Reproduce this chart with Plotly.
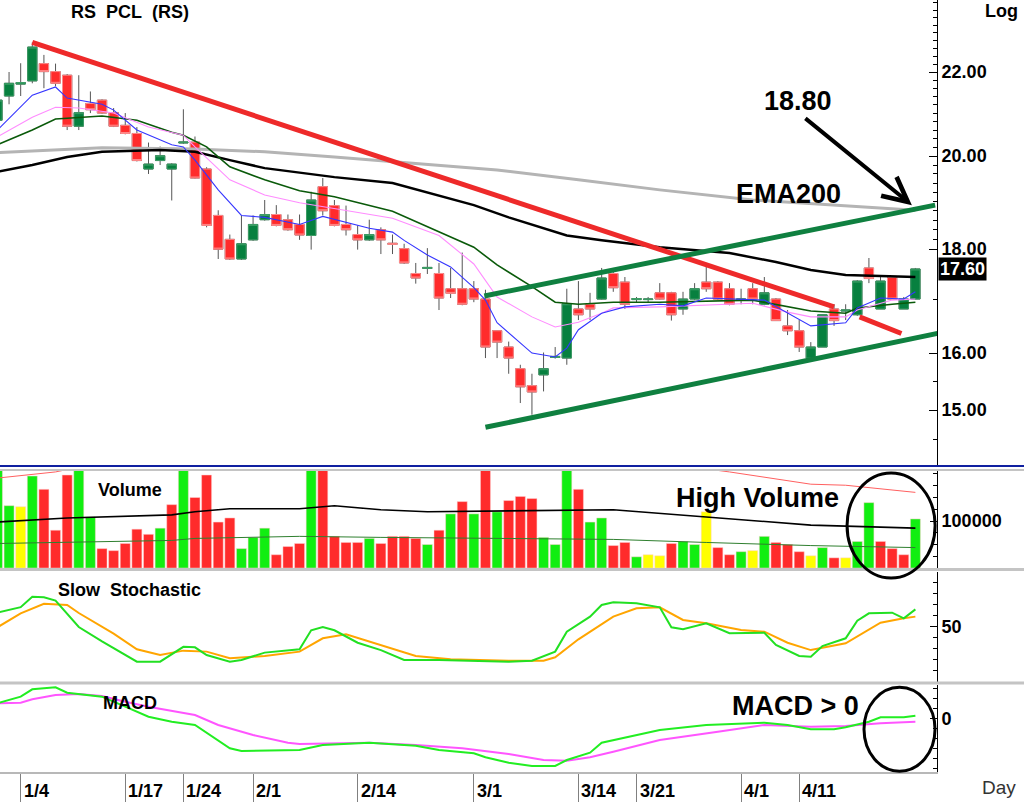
import math
import numpy as np
import plotly.graph_objects as go

FONT = "Liberation Sans, Arial, sans-serif"

# bar index (0 = 1/4)
bars = list(range(-2, 78))

opens = [20.83, 21.41, 21.70, 21.78, 22.21, 22.01, 21.92, 20.69, 21.23, 21.31,
         21.01, 20.71, 20.52, 19.71, 19.90, 19.71, 20.30, 20.32, 19.71, 18.70,
         18.20, 17.80, 18.19, 18.61, 18.72, 18.61, 18.51, 18.28, 19.32, 18.91,
         18.51, 18.30, 18.19, 18.40, 18.12, 18.01, 17.51, 17.61, 17.51, 17.21,
         17.21, 17.21, 17.01, 16.41, 16.11, 15.72, 15.42, 15.61, 15.92, 15.91,
         16.82, 16.91, 17.01, 17.51, 17.34, 17.00, 17.00, 17.13, 17.13, 16.82,
         17.01, 17.34, 17.34, 17.21, 16.99, 17.21, 16.91, 17.01, 16.50, 16.41,
         15.91, 16.11, 16.82, 16.78, 16.71, 17.62, 16.82, 17.43, 16.82, 17.01]
highs = [21.45, 22.00, 22.22, 22.75, 22.43, 22.21, 21.95, 21.92, 21.52, 21.33,
         21.12, 21.00, 20.67, 20.31, 20.22, 19.84, 21.09, 20.45, 19.75, 18.81,
         18.30, 18.70, 18.70, 19.03, 18.92, 18.72, 18.72, 19.21, 19.51, 19.03,
         18.91, 18.49, 18.61, 18.45, 18.30, 18.11, 17.72, 18.02, 17.72, 17.62,
         17.93, 17.36, 17.19, 16.41, 16.21, 15.79, 15.63, 16.01, 16.11, 17.21,
         17.36, 17.13, 17.62, 17.62, 17.44, 17.05, 17.05, 17.32, 17.15, 17.15,
         17.32, 17.72, 17.36, 17.32, 17.21, 17.32, 17.44, 17.03, 16.80, 16.61,
         16.20, 16.71, 16.91, 16.91, 17.38, 17.82, 17.44, 17.45, 17.05, 17.62]
lows = [20.65, 21.21, 21.41, 21.72, 21.60, 21.65, 20.60, 20.60, 21.00, 20.98,
        20.67, 20.50, 19.88, 19.60, 19.80, 19.02, 20.28, 19.50, 18.45, 17.80,
        17.78, 17.78, 18.17, 18.59, 18.47, 18.38, 18.19, 17.99, 18.70, 18.47,
        18.28, 17.99, 18.17, 17.90, 17.90, 17.70, 17.31, 17.50, 16.80, 17.03,
        16.89, 16.95, 15.91, 15.91, 15.63, 15.12, 14.92, 15.32, 15.90, 15.79,
        16.61, 16.61, 17.00, 17.15, 16.82, 16.95, 16.95, 17.00, 16.60, 16.71,
        16.99, 17.15, 16.99, 16.89, 16.91, 16.91, 16.89, 16.60, 16.33, 16.02,
        15.89, 16.11, 16.50, 16.61, 16.69, 17.32, 16.82, 17.01, 16.82, 17.00]
closes = [21.31, 21.72, 21.74, 22.63, 22.01, 21.72, 20.69, 21.01, 21.08, 21.00,
          20.69, 20.52, 19.90, 19.82, 20.01, 19.82, 20.32, 19.51, 18.49, 18.00,
          17.80, 18.11, 18.51, 18.72, 18.49, 18.40, 18.29, 19.03, 18.80, 18.49,
          18.40, 18.19, 18.30, 18.19, 18.10, 17.72, 17.42, 17.63, 17.03, 17.12,
          16.91, 17.01, 16.11, 16.20, 15.91, 15.40, 15.31, 15.72, 15.94, 16.92,
          16.71, 16.82, 17.42, 17.23, 16.91, 17.02, 17.01, 17.01, 16.71, 17.01,
          17.21, 17.21, 17.01, 16.91, 17.01, 17.01, 17.13, 16.60, 16.41, 16.11,
          16.11, 16.71, 16.60, 16.80, 17.36, 17.41, 17.36, 17.01, 17.01, 17.60]

volumes = [250000, 132600, 130400, 195700, 167400, 80400, 197800, 240000, 108700, 41300,
           37000, 52200, 82600, 71700, 84800, 134800, 260000, 150000, 197800, 97800,
           106500, 41300, 65200, 84800, 28300, 45700, 52200, 280000, 250000, 67400,
           54400, 54400, 63000, 52200, 67400, 67400, 63000, 50000, 80400, 115200,
           141300, 115200, 270000, 119600, 143500, 152200, 147800, 65200, 50000, 300000,
           167400, 97800, 106500, 47800, 54400, 23900, 28300, 26100, 52200, 56500,
           50000, 119600, 43500, 28300, 34800, 37000, 67400, 54400, 50000, 34800,
           26100, 43500, 21700, 21700, 56500, 139100, 56500, 41300, 28300, 104400]
vol_dir = ("u u f u d d d u u d "
           "d d d d u d u d d d "
           "d u u u d d d u d d "
           "d d u d d d d u d u "
           "d u d u d d d u u u "
           "d u u d d u f f d u "
           "u f d d u f u d d d "
           "f u d f u u d d d u").split()

# moving averages on price
ema_fast_x = [-2, 1, 3, 4, 7, 8, 10, 13, 14, 15, 17, 19, 21, 23, 24, 26, 27, 30, 32, 33, 35,
              37, 39, 40, 41, 43, 44, 46, 47, 48, 50, 52, 55, 57, 59, 64, 66, 68, 71, 72, 74, 76, 77]
ema_fast = [20.60, 21.43, 21.63, 21.36, 21.21, 21.07, 20.60, 20.26, 20.21, 19.91, 19.25, 18.70,
            18.66, 18.56, 18.51, 18.68, 18.62, 18.43, 18.35, 18.18, 17.88, 17.64, 17.23, 16.99,
            16.56, 16.19, 16.00, 15.93, 16.09, 16.43, 16.74, 16.86, 16.91, 16.88, 17.03, 16.99,
            16.74, 16.50, 16.56, 16.84, 17.03, 17.01, 17.15]
ema_mid_x = [-2, 1, 3, 5, 8, 11, 14, 15, 18, 21, 24, 27, 32, 36, 39, 41, 44, 46, 48, 50, 51,
             55, 63, 66, 68, 71, 72, 75, 77]
ema_mid = [20.44, 20.90, 21.14, 21.12, 21.00, 20.67, 20.48, 20.21, 19.47, 19.14, 18.97, 18.84,
           18.64, 18.28, 17.70, 17.05, 16.67, 16.48, 16.57, 16.74, 16.84, 16.86, 16.93, 16.76,
           16.67, 16.67, 16.80, 16.99, 17.01]
ema_slow_x = [-2, 1, 3, 4, 7, 10, 13, 14, 16, 18, 21, 24, 27, 32, 36, 39, 41, 44, 46, 48, 51,
              55, 63, 68, 71, 72, 75, 77]
ema_slow = [20.26, 20.60, 20.86, 20.88, 20.93, 20.83, 20.55, 20.48, 20.21, 19.76, 19.47, 19.23,
            19.10, 18.79, 18.35, 18.04, 17.68, 17.25, 16.95, 16.91, 16.95, 16.95, 16.99, 16.78,
            16.74, 16.84, 16.91, 16.95]
ema50_x = [-2, 1, 4, 7, 12, 15, 18, 21, 27, 32, 39, 42, 47, 50, 55, 61, 65, 68, 71, 77]
ema50 = [19.65, 19.80, 19.98, 20.10, 20.14, 20.10, 19.91, 19.73, 19.53, 19.40, 18.92, 18.66,
         18.28, 18.18, 18.04, 17.92, 17.74, 17.58, 17.48, 17.44]
ema200_x = [-2, 7, 15, 21, 27, 34, 41, 48, 55, 63, 70, 77]
ema200 = [20.08, 20.19, 20.16, 20.10, 19.98, 19.84, 19.69, 19.47, 19.25, 19.03, 18.92, 18.81]

# hand drawn trend lines
down_x = [1, 70]
down_y = [22.75, 16.86]
down2_x = [72.2, 75.8]
down2_y = [16.67, 16.36]
chan_up_x = [39.9, 78.7]
chan_up_y = [17.07, 18.92]
chan_lo_x = [40.0, 78.9]
chan_lo_y = [14.71, 16.36]

# volume averages
vavg_x = [-2, 4, 13, 15, 18, 24, 27, 28, 31, 35, 42, 48, 51, 59, 68, 71, 77]
vavg = [97800, 106500, 113000, 119600, 126100, 126100, 132600, 130400, 123900, 119600,
        121700, 123900, 123900, 108700, 91300, 89100, 84800]
vlow_x = [-2, 13, 15, 24, 31, 42, 51, 59, 68, 77]
vlow = [52200, 58700, 63000, 67400, 65200, 63000, 60900, 54400, 47800, 43500]
vhigh_x = [-2, 3, 10, 30, 50, 61, 68, 71, 77]
vhigh = [191300, 204400, 240000, 250000, 240000, 204400, 178300, 176100, 160900]

# slow stochastic
stk_x = [-2, 0, 1, 2, 3, 5, 7, 10, 12, 14, 15, 16, 18, 19, 21, 24, 25, 26, 27, 29, 31, 33, 36,
         42, 44, 46, 47, 49, 50, 51, 53, 55, 56, 57, 59, 61, 64, 65, 67, 68, 69, 71, 72, 73, 75, 76, 77]
stk = [63, 68, 77.5, 77, 74, 50, 37, 18.5, 18.5, 32, 31.5, 24.5, 18.5, 20, 26.7, 29.7, 47, 50,
       47, 35.7, 29, 20, 20, 18.5, 19.4, 27.6, 45.7, 59.4, 70, 72.4, 71.5, 67.9, 49.7, 47.9,
       53.4, 44.3, 44.8, 33.6, 23.6, 23, 32.7, 39.7, 55.7, 62.4, 63, 57.9, 66]
std_x = [-2, 0, 2, 4, 5, 8, 10, 12, 14, 16, 18, 21, 24, 26, 28, 31, 34, 37, 42, 45, 46, 48, 51,
         53, 55, 57, 59, 62, 64, 66, 68, 71, 74, 76, 77]
std = [49.7, 62.4, 71, 70, 62.7, 44, 29.7, 24.5, 28.5, 27.6, 21.5, 23.6, 27.6, 39.7, 43.4, 33.6,
       23.6, 20.6, 19.4, 19.4, 22.5, 38.8, 59.4, 67, 67.9, 56.4, 53.4, 47.3, 45.7, 35.7, 29,
       35.2, 53.9, 57.9, 59.4]

# MACD
macd_x = [-2, 0, 1, 3, 4, 7, 9, 11, 13, 15, 18, 19, 24, 26, 30, 32, 34, 36, 39, 40, 42, 44, 46,
          47, 49, 50, 53, 55, 59, 63, 64, 66, 68, 70, 71, 73, 74, 76, 77]
macd = [0.157, 0.223, 0.297, 0.317, 0.263, 0.223, 0.123, 0.023, -0.027, -0.06, -0.293, -0.32,
        -0.31, -0.26, -0.237, -0.25, -0.267, -0.31, -0.343, -0.383, -0.437, -0.47, -0.47, -0.41,
        -0.337, -0.237, -0.16, -0.11, -0.06, -0.037, -0.037, -0.06, -0.103, -0.103, -0.083,
        -0.027, 0.017, 0.017, 0.033]
sig_x = [-2, 0, 1, 3, 5, 7, 9, 11, 15, 17, 20, 23, 24, 30, 34, 38, 42, 45, 47, 49, 51, 55, 60,
         64, 68, 71, 74, 77]
sig = [0.157, 0.163, 0.197, 0.24, 0.25, 0.23, 0.173, 0.123, 0.04, -0.06, -0.16, -0.237, -0.25,
       -0.237, -0.26, -0.293, -0.35, -0.41, -0.417, -0.383, -0.327, -0.21, -0.127, -0.06,
       -0.077, -0.07, -0.043, -0.027]

date_idx = [0, 9, 14, 20, 29, 39, 48, 53, 62, 67]
date_txt = ["1/4", "1/17", "1/24", "2/1", "2/14", "3/1", "3/14", "3/21", "4/1", "4/11"]
price_ticks = [15, 16, 18, 20, 22]
price_tick_txt = ["15.00", "16.00", "18.00", "20.00", "22.00"]
last_price = 17.60
target_price = 18.92

UP = "#07803f"
DN = "#ff2b2b"
vcol = {"u": "#11ee11", "d": "#ff2b2b", "f": "#ffff00"}

fig = go.Figure()

# candles: wicks first, bodies on top
fig.add_trace(go.Candlestick(
    x=bars, open=opens, high=highs, low=lows, close=closes,
    increasing=dict(line=dict(color="#555555", width=1), fillcolor=UP),
    decreasing=dict(line=dict(color="#555555", width=1), fillcolor=DN),
    whiskerwidth=0, hoverinfo="skip", showlegend=False, yaxis="y"))
body_hi = [max(o, c) for o, c in zip(opens, closes)]
body_lo = [min(o, c) for o, c in zip(opens, closes)]
fig.add_trace(go.Candlestick(
    x=bars, open=opens, high=body_hi, low=body_lo, close=closes,
    increasing=dict(line=dict(color="#3d9d66", width=1), fillcolor=UP),
    decreasing=dict(line=dict(color="#ff8a8a", width=1), fillcolor=DN),
    whiskerwidth=0, hoverinfo="skip", showlegend=False, yaxis="y"))

def line(x, y, color, width, axis):
    fig.add_trace(go.Scatter(x=x, y=y, mode="lines", line=dict(color=color, width=width),
                             hoverinfo="skip", showlegend=False, yaxis=axis))

line(ema200_x, ema200, "#b4b4b4", 3, "y")
line(ema50_x, ema50, "#000000", 2.5, "y")
line(ema_slow_x, ema_slow, "#0a5a0a", 1.6, "y")
line(ema_mid_x, ema_mid, "#ff8cff", 1.1, "y")
line(ema_fast_x, ema_fast, "#3535ff", 1.1, "y")
line(down_x, down_y, "#ee2a2a", 5, "y")
line(down2_x, down2_y, "#ee2a2a", 5, "y")
line(chan_up_x, chan_up_y, "#0f8040", 5, "y")
line(chan_lo_x, chan_lo_y, "#0f8040", 5, "y")

fig.add_trace(go.Bar(x=bars, y=volumes, marker=dict(color=[vcol[d] for d in vol_dir],
                     line=dict(color="#ffd0d0", width=0.5)),
                     hoverinfo="skip", showlegend=False, yaxis="y2"))
line(vhigh_x, vhigh, "#ff6060", 1, "y2")
line(vavg_x, vavg, "#000000", 1.6, "y2")
line(vlow_x, vlow, "#2f7f2f", 1, "y2")

line(std_x, std, "#ffa500", 2, "y3")
line(stk_x, stk, "#22e022", 2, "y3")

line(sig_x, sig, "#ff55ff", 2, "y4")
line(macd_x, macd, "#22ee22", 2, "y4")

tickfont = dict(family=FONT, size=18, color="black", weight="bold")
yax = dict(side="right", anchor="x", showgrid=False, zeroline=False, showline=True,
           linecolor="black", linewidth=1, ticks="inside", ticklen=7, tickcolor="black",
           tickfont=tickfont, fixedrange=True)

minor_price = [14.5, 15.5, 17.0] + [round(v, 1) for v in np.arange(18.2, 24.0, 0.2)]

fig.update_layout(
    width=1024, height=802, margin=dict(l=0, r=87, t=0, b=30),
    paper_bgcolor="white", plot_bgcolor="white",
    boxgap=0.2, boxgroupgap=0, bargap=0.14, showlegend=False,
    font=dict(family=FONT, color="black"),
    xaxis=dict(domain=[0, 1], range=[-1.78, 78.86], anchor="y4", showgrid=False,
               zeroline=False, rangeslider=dict(visible=False), tickmode="array",
               tickvals=date_idx, ticks="outside", ticklen=30, tickcolor="#808080",
               tickwidth=1, showticklabels=False, showline=True, linecolor="#b8b8b8",
               linewidth=2, fixedrange=True),
    yaxis=dict(yax, domain=[0.3977, 1], type="log",
               range=[math.log10(14.095), math.log10(23.87)],
               tickmode="array", tickvals=price_ticks, ticktext=price_tick_txt, ticklen=8,
               minor=dict(tickvals=minor_price, ticks="inside", ticklen=4, tickcolor="black")),
    yaxis2=dict(yax, domain=[0.2642, 0.3899], range=[0, 206383], tickmode="array",
                tickvals=[100000], ticktext=["100000"],
                minor=dict(tickvals=[25000, 50000, 75000, 125000, 150000, 175000, 200000],
                           ticks="inside", ticklen=4, tickcolor="black")),
    yaxis3=dict(yax, domain=[0.1166, 0.2591], range=[0, 100], tickmode="array",
                tickvals=[50], ticktext=["50"],
                minor=dict(dtick=10, ticks="inside", ticklen=4, tickcolor="black")),
    yaxis4=dict(yax, domain=[0, 0.1127], range=[-0.53, 0.34], tickmode="array",
                tickvals=[0], ticktext=["0"],
                minor=dict(dtick=0.1, ticks="inside", ticklen=4, tickcolor="black")),
)

# panel separators
W = 1024 / 937
for py, col, w in [(466, "#1020a0", 2), (470, "#c4c4c4", 2), (569.5, "#c4c4c4", 3),
                   (683, "#c4c4c4", 3)]:
    yp = (772 - py) / 772
    fig.add_shape(type="line", xref="paper", yref="paper", x0=0, x1=W, y0=yp, y1=yp,
                  line=dict(color=col, width=w))

# ellipses
fig.add_shape(type="circle", xref="paper", yref="paper", x0=0.904, x1=0.998,
              y0=0.2513, y1=0.3873, line=dict(color="black", width=3))
fig.add_shape(type="circle", xref="paper", yref="paper", x0=0.9221, x1=0.9979,
              y0=0.001, y1=0.1097, line=dict(color="black", width=3))

def note(text, x, y, size, bold=True, **kw):
    fig.add_annotation(text=text, x=x, y=y, xref=kw.pop("xref", "paper"),
                       yref=kw.pop("yref", "paper"), showarrow=False,
                       xanchor=kw.pop("xanchor", "center"), yanchor=kw.pop("yanchor", "middle"),
                       font=dict(family=FONT, size=size, color=kw.pop("color", "black"),
                                 weight="bold" if bold else "normal"), **kw)

note("RS\u00a0\u00a0PCL\u00a0\u00a0(RS)", 0.1387, 0.9845, 18)
note("Log", 1.0886, 0.9858, 18, xanchor="right")
note("18.80", 0.8517, 0.8692, 27)
note("EMA200", 0.841, 0.7487, 27)
note("High Volume", 0.8079, 0.3549, 27)
note("MACD > 0", 0.8495, 0.0855, 27)
note("Volume", 0.1387, 0.3653, 18)
note("Slow\u00a0\u00a0Stochastic", 0.1387, 0.2358, 18)
note("MACD", 0.1387, 0.0894, 18)
note("Day", 1.0662, -0.0207, 19, bold=False, color="#333333")
note("17.60", 1.0, math.log10(last_price), 18, yref="y", xanchor="left", xshift=1,
     bgcolor="black", color="white", borderpad=1)
for i, t in zip(date_idx, date_txt):
    note(t, i, -0.0246, 18, xref="x", xanchor="left", xshift=1)

fig.add_annotation(x=76.7, y=math.log10(target_price), xref="x", yref="y", ax=-108, ay=-88,
                   text="", showarrow=True, arrowhead=5, arrowsize=1.2, arrowwidth=4,
                   arrowcolor="black")

fig.write_html("out.html", config={"displayModeBar": False},
               post_script="document.body.style.margin='0';document.body.style.overflow='hidden';")
